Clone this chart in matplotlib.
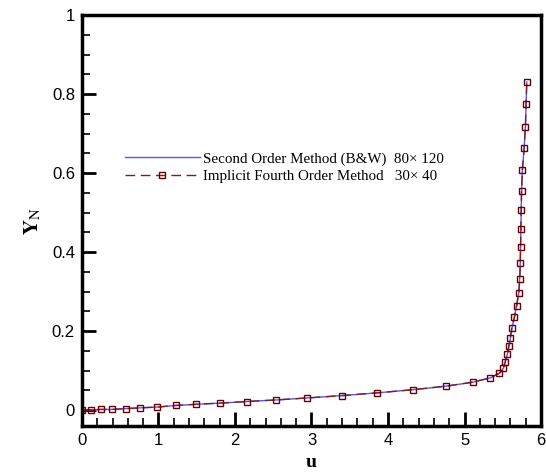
import numpy as np
import matplotlib as mpl
import matplotlib.pyplot as plt
from matplotlib.ticker import MultipleLocator

mpl.rcParams['font.family'] = ['Liberation Sans', 'DejaVu Sans']
mpl.rcParams['mathtext.fontset'] = 'stix'

#
# Data
#
# Second order method (B&W), 80x120 grid
u_bw = [0.0, 0.12, 0.25, 0.39, 0.57, 0.76, 0.99, 1.23, 1.49, 1.81, 2.15,
        2.54, 2.94, 3.40, 3.86, 4.33, 4.76, 5.11, 5.34, 5.46, 5.51, 5.53,
        5.56, 5.58, 5.60, 5.62, 5.65, 5.68, 5.71, 5.72, 5.728, 5.732,
        5.736, 5.74, 5.745, 5.756, 5.778, 5.795, 5.804, 5.813]
y_bw = [0.0, 0.001, 0.002, 0.002, 0.004, 0.006, 0.008, 0.012, 0.015, 0.018,
        0.022, 0.026, 0.031, 0.037, 0.044, 0.052, 0.061, 0.071, 0.082, 0.094,
        0.107, 0.123, 0.142, 0.162, 0.184, 0.208, 0.235, 0.265, 0.298, 0.333,
        0.372, 0.414, 0.458, 0.506, 0.556, 0.608, 0.663, 0.717, 0.775, 0.831]

# Implicit fourth order method, 30x40 grid
u_if = [0.0, 0.118, 0.248, 0.392, 0.571, 0.758, 0.985, 1.225, 1.494, 1.808,
        2.153, 2.536, 2.941, 3.395, 3.860, 4.331, 4.762, 5.111, 5.337, 5.455,
        5.507, 5.533, 5.556, 5.578, 5.599, 5.617, 5.651, 5.682, 5.708, 5.722,
        5.728, 5.732, 5.736, 5.740, 5.745, 5.756, 5.778, 5.795, 5.804, 5.813]
y_if = [0.0, 0.001, 0.002, 0.002, 0.004, 0.006, 0.008, 0.012, 0.015, 0.018,
        0.022, 0.026, 0.031, 0.037, 0.044, 0.052, 0.061, 0.071, 0.082, 0.094,
        0.107, 0.123, 0.142, 0.162, 0.184, 0.208, 0.235, 0.265, 0.298, 0.333,
        0.372, 0.414, 0.458, 0.506, 0.556, 0.608, 0.663, 0.717, 0.775, 0.831]

label_bw = 'Second Order Method (B&W)  80\u00d7 120'
label_if = 'Implicit Fourth Order Method   30\u00d7 40'

#
# Plot
#
fig = plt.figure(figsize=(5.46, 4.76), dpi=100)
ax = fig.add_axes([0.150, 0.105, 0.841, 0.863])

ax.plot(u_bw, y_bw, '-', color='#5555ff', lw=1.0, label=label_bw)
ax.plot(u_if, y_if, '--', color='#7a1f1f', lw=1.0, dashes=(7, 4),
        marker='s', markersize=5, markerfacecolor='none',
        markeredgecolor='#6a0000', markeredgewidth=1.0, label=label_if)

ax.set_xlim(0, 6)
ax.set_ylim(-0.04, 1.0)
ax.xaxis.set_major_locator(MultipleLocator(1))
ax.xaxis.set_minor_locator(MultipleLocator(0.2))
ax.yaxis.set_major_locator(MultipleLocator(0.2))
ax.yaxis.set_minor_locator(MultipleLocator(0.05))
ax.set_yticks([0, 0.2, 0.4, 0.6, 0.8, 1.0])
ax.set_yticklabels(['0', '0.2', '0.4', '0.6', '0.8', '1'])

ax.tick_params(which='major', direction='in', length=10, width=2,
               labelsize=12, pad=5, top=False, right=False)
ax.tick_params(which='minor', direction='in', length=6, width=1.2,
               top=False, right=False)
for s in ax.spines.values():
    s.set_linewidth(2.5)

ax.set_xlabel('u', fontsize=14, fontweight='bold',
              family='Liberation Serif', labelpad=4)
ax.set_ylabel(r'$\mathbf{Y}_{\mathrm{N}}$', fontsize=15, labelpad=6)

leg = ax.legend(loc='upper left', bbox_to_anchor=(0.080, 0.682), frameon=False,
                prop={'family': 'Liberation Serif', 'size': 10.8},
                handlelength=5.0, handletextpad=0.2, labelspacing=0.28,
                borderaxespad=0)

fig.savefig('out.png', dpi=100)
